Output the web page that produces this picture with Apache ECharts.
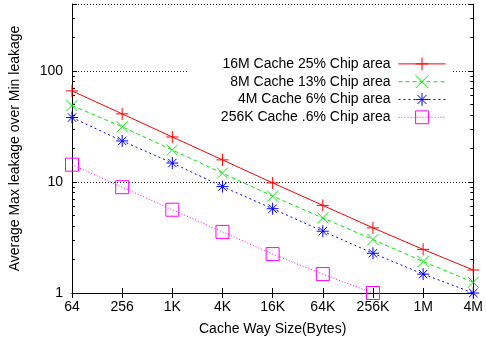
<!DOCTYPE html>
<html>
<head>
<meta charset="utf-8">
<script src="https://cdn.jsdelivr.net/npm/echarts@6/dist/echarts.min.js"></script>
<style>
html,body{margin:0;padding:0;background:#fff;}
#chart{width:486px;height:341px;}
</style>
</head>
<body>
<div id="chart"></div>
<script>
var font = '"Liberation Sans", Arial, sans-serif';
var categories = ['64','256','1K','4K','16K','64K','256K','1M','4M'];
var s16M = [66, 41, 25.4, 15.8, 9.8, 6.15, 3.86, 2.47, 1.61];
var s8M = [48.7, 31.4, 19.4, 12.0, 7.45, 4.74, 3.03, 1.92, 1.25];
var s4M = [38, 23.4, 14.8, 9.08, 5.74, 3.6, 2.28, 1.48, 1.0];
var s256K = [14.3, 8.97, 5.62, 3.55, 2.24, 1.48, 1.0, null, null];
var majorTicks = [1, 10, 100];
var minorTicks = [2,3,4,5,6,7,8,9,20,30,40,50,60,70,80,90,200,300];
var yMax = 400;

// gnuplot style point shapes
var plus = 'path://M0,5L10,5M5,0L5,10';
var cross = 'path://M0,0L10,10M10,0L0,10';
var star = 'path://M0,5L10,5M5,0L5,10M1.5,1.5L8.5,8.5M8.5,1.5L1.5,8.5';
var square = 'path://M0,0L10,0L10,10L0,10Z';

function mkSeries(name, data, color, dash, symbol, size) {
    return {
        name: name,
        type: 'line',
        data: data,
        xAxisIndex: 0,
        yAxisIndex: 0,
        symbol: symbol,
        symbolSize: size,
        lineStyle: {color: color, width: 1, type: dash},
        itemStyle: {color: 'none', borderColor: color, borderWidth: 1},
        emphasis: {disabled: true}
    };
}

var myChart = echarts.init(document.getElementById('chart'));
var minorLog = minorTicks.map(function (v) { return Math.log10(v); });
var tickAxis = function (pos) {
    return {
        type: 'value', position: pos, min: 0, max: Math.log10(yMax),
        axisLine: {show: false},
        axisLabel: {show: false},
        splitLine: {show: false},
        axisTick: {show: true, inside: true, length: 3, customValues: minorLog, lineStyle: {color: '#000'}}
    };
};
option = {
    animation: false,
    textStyle: {fontFamily: font},
    grid: {left: 70, right: 12, top: 4, bottom: 46, containLabel: false},
    legend: {
        orient: 'vertical',
        align: 'right',
        right: 33,
        top: 53,
        padding: [2, 7, 2, 33],
        backgroundColor: '#fff',
        itemWidth: 47,
        itemHeight: 16,
        itemGap: 0,
        itemStyle: {borderWidth: 1},
        lineStyle: {width: 1},
        textStyle: {fontFamily: font, fontSize: 14, color: '#000', padding: [0, 3, 0, 0]},
        data: ['16M Cache 25% Chip area', '8M Cache 13% Chip area', '4M Cache 6% Chip area', '256K Cache .6% Chip area']
    },
    xAxis: [
        {
            type: 'category', data: categories, boundaryGap: false, position: 'bottom',
            axisLine: {lineStyle: {color: '#000', width: 1}},
            axisTick: {inside: true, length: 5, lineStyle: {color: '#000'}},
            axisLabel: {fontFamily: font, fontSize: 14, color: '#000', margin: 7, interval: 0},
            name: 'Cache Way Size(Bytes)', nameLocation: 'middle', nameGap: 29,
            nameTextStyle: {fontFamily: font, fontSize: 14, color: '#000'}
        },
        {
            type: 'category', data: categories, boundaryGap: false, position: 'top',
            axisLine: {lineStyle: {color: '#000', width: 1}},
            axisTick: {inside: true, length: 5, lineStyle: {color: '#000'}},
            axisLabel: {show: false}
        }
    ],
    yAxis: [
        {
            type: 'log', logBase: 10, min: 1, max: yMax, position: 'left',
            axisLine: {show: true, lineStyle: {color: '#000', width: 1}},
            axisTick: {show: true, inside: true, length: 5, lineStyle: {color: '#000'}},
            axisLabel: {
                fontFamily: font, fontSize: 14, color: '#000', margin: 9,
                formatter: function (v) { return majorTicks.indexOf(Math.round(v)) >= 0 && Math.abs(v - Math.round(v)) < 1e-6 ? String(Math.round(v)) : ''; }
            },
            splitLine: {show: true, lineStyle: {color: '#222', width: 1, type: [1, 2]}},
            name: 'Average Max leakage over Min leakage', nameLocation: 'middle', nameGap: 50,
            nameTextStyle: {fontFamily: font, fontSize: 14, color: '#000'}
        },
        {
            type: 'log', logBase: 10, min: 1, max: yMax, position: 'right',
            axisLine: {show: true, lineStyle: {color: '#000', width: 1}},
            axisTick: {show: true, inside: true, length: 5, lineStyle: {color: '#000'}},
            axisLabel: {show: false},
            splitLine: {show: false}
        },
        tickAxis('left'),
        tickAxis('right')
    ],
    series: [
        mkSeries('16M Cache 25% Chip area', s16M, '#ff0000', 'solid', plus, 12),
        mkSeries('8M Cache 13% Chip area', s8M, '#00ee00', [4, 3], cross, 11),
        mkSeries('4M Cache 6% Chip area', s4M, '#0000ff', [2, 3], star, 12),
        mkSeries('256K Cache .6% Chip area', s256K, '#ff00ff', [1, 2], square, 13)
    ]
};
myChart.setOption(option, true);
</script>
</body>
</html>
